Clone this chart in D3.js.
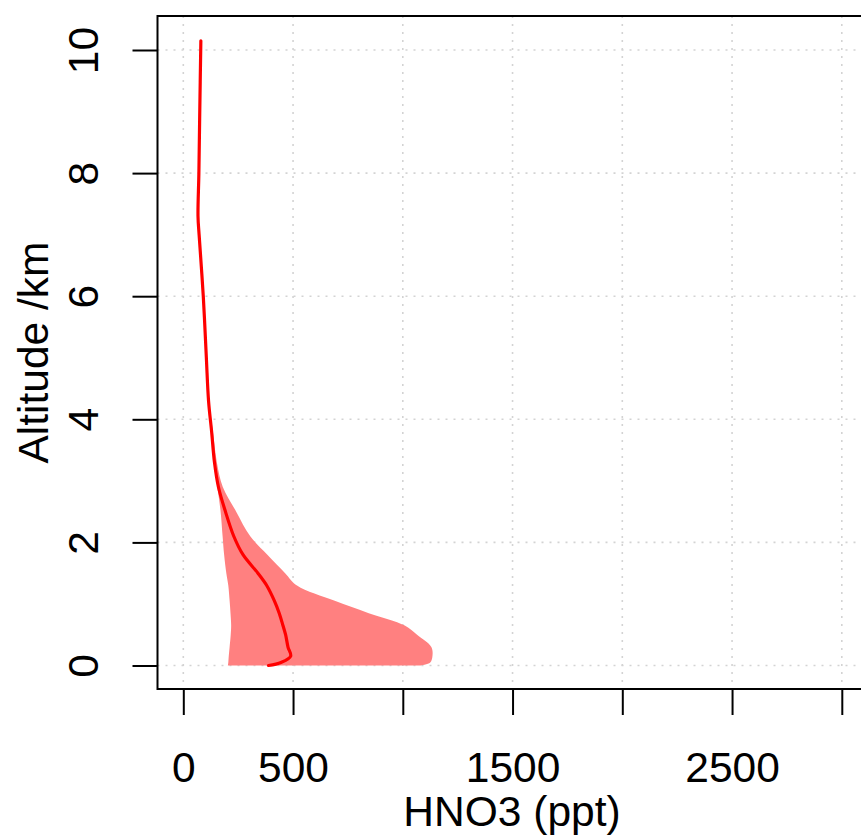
<!DOCTYPE html>
<html>
<head>
<meta charset="utf-8">
<script src="https://cdn.jsdelivr.net/npm/d3@7"></script>
<style>
  html, body { margin: 0; padding: 0; background: #ffffff; }
  svg { display: block; }
  text { font-family: "Liberation Sans", Arial, Helvetica, sans-serif; fill: #000; }
</style>
</head>
<body>
<div id="chart"></div>
<script>
// ---- data ----
const altitudeKm = [0, 0.05, 0.15, 0.3, 0.5, 0.65, 0.85, 1.05, 1.3, 1.5, 1.8, 2.1, 2.5, 2.9, 3.3, 3.8, 4.3, 5, 6, 7, 7.3, 8, 9, 10.15];
const meanHNO3  = [388, 445, 489, 477, 466, 454, 437, 415, 380, 340, 272, 230, 192, 160, 142, 129, 115, 105, 91, 72, 67, 71, 75, 80];
const lowerHNO3 = [203, 205, 207, 211, 216, 218, 215, 211, 205, 196, 186, 179, 170, 155, 138, 126, 113, 102, 88, 69, 64, 68, 72, 77];
const upperHNO3 = [1080, 1125, 1135, 1130, 1065, 1009, 845, 690, 518, 464, 383, 305, 241, 180, 153, 135, 118, 108, 94, 75, 70, 74, 78, 83];

const xTickValues = [0, 500, 1000, 1500, 2000, 2500, 3000];
const xTickLabels = ["0", "500", "", "1500", "", "2500", ""];
const yTickValues = [0, 2, 4, 6, 8, 10];
const yTickLabels = ["0", "2", "4", "6", "8", "10"];
const xTitle = "HNO3 (ppt)";
const yTitle = "Altitude /km";

// ---- layout ----
const W = 861, H = 836;
const box = { left: 157.5, right: 872, top: 16, bottom: 689 };
const fontSize = 42.5;

const svg = d3.select("#chart").append("svg")
  .attr("width", W).attr("height", H);

const x = d3.scaleLinear().domain([0, 3000]).range([183.3, 841.8]);
const y = d3.scaleLinear().domain([0, 10]).range([665.5, 50]);

const rows = altitudeKm.map((a, i) => ({ a, m: meanHNO3[i], lo: lowerHNO3[i], hi: upperHNO3[i] }));

// clip to plot region
svg.append("clipPath").attr("id", "plotclip")
  .append("rect")
  .attr("x", box.left).attr("y", box.top)
  .attr("width", box.right - box.left).attr("height", box.bottom - box.top);

const plot = svg.append("g").attr("clip-path", "url(#plotclip)");

// grid (dotted light gray)
plot.append("g").selectAll("line.vg").data(xTickValues).join("line")
  .attr("x1", d => x(d)).attr("x2", d => x(d))
  .attr("y1", box.top).attr("y2", box.bottom)
  .attr("stroke", "#D3D3D3").attr("stroke-width", 1.6)
  .attr("stroke-dasharray", "2 6");
plot.append("g").selectAll("line.hg").data(yTickValues).join("line")
  .attr("x1", box.left).attr("x2", box.right)
  .attr("y1", d => y(d)).attr("y2", d => y(d))
  .attr("stroke", "#D3D3D3").attr("stroke-width", 1.6)
  .attr("stroke-dasharray", "2 6");

// shaded range
const area = d3.area()
  .y(d => y(d.a))
  .x0(d => x(d.lo))
  .x1(d => x(d.hi))
  .curve(d3.curveCatmullRom.alpha(0.5));
plot.append("path").datum(rows)
  .attr("d", area)
  .attr("fill", "#FF8080")
  .attr("stroke", "none");

// mean profile
const line = d3.line()
  .y(d => y(d.a))
  .x(d => x(d.m))
  .curve(d3.curveCatmullRom.alpha(0.5));
plot.append("path").datum(rows)
  .attr("d", line)
  .attr("fill", "none")
  .attr("stroke", "#FF0000")
  .attr("stroke-width", 3.2)
  .attr("stroke-linejoin", "round")
  .attr("stroke-linecap", "round");

// box
svg.append("rect")
  .attr("x", box.left).attr("y", box.top)
  .attr("width", box.right - box.left).attr("height", box.bottom - box.top)
  .attr("fill", "none").attr("stroke", "#000").attr("stroke-width", 2);

// x axis
const xAxis = d3.axisBottom(x)
  .tickValues(xTickValues)
  .tickSize(26)
  .tickPadding(0)
  .tickFormat((d, i) => xTickLabels[i]);
const gx = svg.append("g").attr("transform", `translate(0,${box.bottom})`).call(xAxis);
gx.select(".domain").remove();
gx.selectAll(".tick line").attr("stroke", "#000").attr("stroke-width", 2);
gx.selectAll(".tick text")
  .attr("y", 93).attr("dy", null)
  .attr("font-size", fontSize)
  .attr("font-family", "'Liberation Sans', Arial, sans-serif")
  .attr("fill", "#000");

// y axis
const yAxis = d3.axisLeft(y)
  .tickValues(yTickValues)
  .tickSize(25)
  .tickPadding(0)
  .tickFormat((d, i) => yTickLabels[i]);
const gy = svg.append("g").attr("transform", `translate(${box.left},0)`).call(yAxis);
gy.select(".domain").remove();
gy.selectAll(".tick line").attr("stroke", "#000").attr("stroke-width", 2);
gy.selectAll(".tick text")
  .attr("x", null).attr("dy", null)
  .attr("transform", `translate(${98 - box.left},0) rotate(-90)`)
  .attr("text-anchor", "middle")
  .attr("font-size", fontSize)
  .attr("font-family", "'Liberation Sans', Arial, sans-serif")
  .attr("fill", "#000");

// titles
svg.append("text")
  .attr("x", 512).attr("y", 826)
  .attr("text-anchor", "middle")
  .attr("font-size", fontSize)
  .text(xTitle);
svg.append("text")
  .attr("transform", `translate(48,${(box.top + box.bottom) / 2}) rotate(-90)`)
  .attr("text-anchor", "middle")
  .attr("font-size", fontSize)
  .text(yTitle);
</script>
</body>
</html>
